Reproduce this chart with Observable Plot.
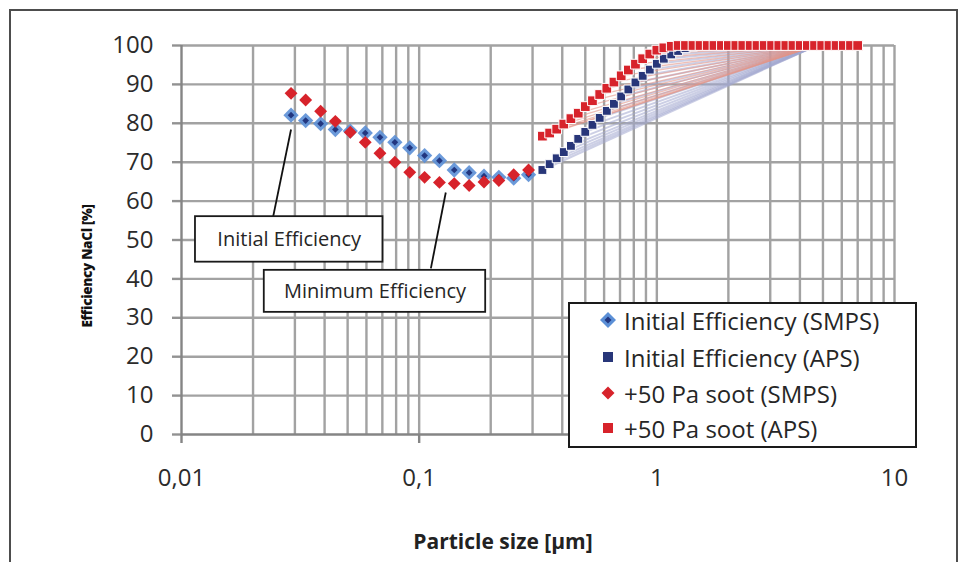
<!DOCTYPE html>
<html>
<head>
<meta charset="utf-8">
<script src="https://cdn.jsdelivr.net/npm/d3@7"></script>
<script src="https://cdn.jsdelivr.net/npm/@observablehq/plot@0.6"></script>
<style>
  body { margin: 0; background: #fff; font-family: "Open Sans", sans-serif; }
  #wrap { position: relative; width: 963px; height: 562px; overflow: hidden; background: #fff; }
  #frame { position: absolute; left: 9px; top: 9px; width: 945px; height: 620px; border: 2px solid #4d4d4d; }
  #chart { position: absolute; left: 0; top: 0; }
  #ylabel { position: absolute; left: 87px; top: 266px; transform: translate(-50%, -50%) rotate(-90deg);
            white-space: nowrap; font-size: 13.5px; font-weight: 800; color: #111; letter-spacing: -0.3px; }
  #xlabel { position: absolute; left: 503px; top: 541px; transform: translate(-50%, -50%);
            white-space: nowrap; font-size: 21px; font-weight: 700; color: #222; }
  #legend { position: absolute; left: 568px; top: 302px; width: 345px; height: 142px;
            border: 2px solid #1a1a1a; background: #fff; }
  .row { position: absolute; left: 0; height: 30px; display: flex; align-items: center; }
  .row span { font-size: 24px; color: #262626; white-space: nowrap; }
</style>
</head>
<body>
<div id="wrap">
  <div id="frame"></div>
  <div id="chart"></div>
  <div id="ylabel">Efficiency NaCl [%]</div>
  <div id="xlabel">Particle size [µm]</div>
  <div id="legend"></div>
</div>
<script>
// ---- SMPS series (particle size in µm, efficiency in %) ----
const smpsSize = [0.0289, 0.0333, 0.0385, 0.0444, 0.0513, 0.0593, 0.0684, 0.0790, 0.0913,
                  0.1054, 0.1217, 0.1405, 0.1623, 0.1874, 0.2164, 0.2499, 0.2886];
const smpsInitial = [82.1, 80.7, 79.9, 78.4, 78.0, 77.5, 76.4, 75.1, 73.7,
                     71.7, 70.4, 68.0, 67.3, 66.4, 66.1, 65.9, 66.8];
const smpsSoot = [87.7, 86.0, 83.1, 80.5, 77.7, 75.1, 72.3, 70.0, 67.4,
                  66.1, 64.8, 64.5, 64.0, 64.9, 65.3, 66.8, 68.0];

// ---- APS series ----
const apsSize = [0.330, 0.354, 0.379, 0.406, 0.435, 0.467, 0.500, 0.536, 0.575, 0.616,
                 0.660, 0.708, 0.759, 0.813, 0.872, 0.934, 1.00, 1.07, 1.15, 1.23,
                 1.32, 1.42, 1.52, 1.63, 1.74, 1.87, 2.00, 2.15, 2.30, 2.47,
                 2.64, 2.83, 3.04, 3.26, 3.49, 3.74, 4.01, 4.30, 4.61, 4.94,
                 5.30, 5.68, 6.09, 6.53, 7.00];
const apsInitial = [68.0, 69.5, 71.0, 72.6, 74.2, 76.0, 77.8, 79.6, 81.4, 83.2,
                    85.0, 86.9, 88.7, 90.5, 92.2, 93.8, 95.3, 96.6, 97.7, 98.6,
                    99.3, 99.7, 100, 100, 100, 100, 100, 100, 100, 100,
                    100, 100, 100, 100, 100, 100, 100, 100, 100, 100,
                    100, 100, 100, 100, 100];
const apsSoot = [76.7, 77.5, 78.5, 79.8, 81.2, 82.6, 84.3, 85.8, 87.4, 89.0,
                 90.6, 92.2, 93.7, 95.2, 96.6, 97.8, 98.8, 99.4, 99.8, 100,
                 100, 100, 100, 100, 100, 100, 100, 100, 100, 100,
                 100, 100, 100, 100, 100, 100, 100, 100, 100, 100,
                 100, 100, 100, 100, 100];
// point where the hatched APS "fan" lines converge
const fanApexSize = 4.7;
const fanApexEff = 100;

// ---- axes ----
const xTicks = [0.01, 0.1, 1, 10];
const xTickLabels = ["0,01", "0,1", "1", "10"];
const yTicks = [0, 10, 20, 30, 40, 50, 60, 70, 80, 90, 100];

// ---- legend ----
const seriesNames = ["Initial Efficiency (SMPS)", "Initial Efficiency (APS)",
                     "+50 Pa soot (SMPS)", "+50 Pa soot (APS)"];

// ---- callouts (data coordinates) ----
const calloutLabels = ["Initial Efficiency", "Minimum Efficiency"];
const calloutFrom = [[0.0289, 78.4], [0.1294, 62.2]];
const calloutTo = [[0.0243, 56.0], [0.112, 42.7]];
const calloutBoxX = [[0.01145, 0.0704], [0.0223, 0.1905]];
const calloutBoxY = [[44.3, 56.0], [31.4, 42.2]];
const calloutTextAt = [[0.0284, 50.1], [0.0652, 36.8]];

// ---- build tables ----
const smps = smpsSize.map((x, i) => ({x, init: smpsInitial[i], soot: smpsSoot[i]}));
const aps = apsSize.map((x, i) => ({x, init: apsInitial[i], soot: apsSoot[i]}));
const callouts = calloutLabels.map((label, i) => ({
  label,
  fx: calloutFrom[i][0], fy: calloutFrom[i][1],
  tx: calloutTo[i][0], ty: calloutTo[i][1],
  bx1: calloutBoxX[i][0], bx2: calloutBoxX[i][1],
  by1: calloutBoxY[i][0], by2: calloutBoxY[i][1],
  cx: calloutTextAt[i][0], cy: calloutTextAt[i][1]
}));

// minor grid positions of the log axis
const xGrid = [];
for (const decade of [0.01, 0.1, 1]) for (let m = 1; m <= 9; m++) xGrid.push(+(m * decade).toPrecision(3));
xGrid.push(10);

const cBlueLight = "#5b8fd6", cBlueDark = "#22367f", cNavy = "#283679", cRed = "#d7232b";

const chart = Plot.plot({
  width: 963,
  height: 562,
  marginTop: 45,
  marginBottom: 128,
  marginLeft: 181,
  marginRight: 69,
  style: {fontFamily: "Open Sans, sans-serif", background: "transparent", overflow: "visible"},
  x: {type: "log", domain: [0.01, 10]},
  y: {domain: [0, 100]},
  marks: [
    // grid
    Plot.ruleX(xGrid.filter(d => d > 0.01), {y1: 0, y2: 100, stroke: "#a2a2a2", strokeWidth: 2.4}),
    Plot.ruleY(yTicks.filter(d => d > 0), {x1: 0.01, x2: 10, stroke: "#a2a2a2", strokeWidth: 2.4}),
    // axes
    Plot.axisY({ticks: yTicks, tickSize: 9, tickPadding: 19, fontSize: 24, stroke: "#929292",
                strokeWidth: 2.4, fill: "#2b2b2b", label: null}),
    Plot.axisX({ticks: xTicks, tickSize: 9, tickPadding: 25, fontSize: 24, stroke: "#858585",
                strokeWidth: 2.4, fill: "#2b2b2b", label: null,
                tickFormat: d => xTickLabels[xTicks.indexOf(d)]}),
    Plot.ruleX([0.01], {y1: 0, y2: 100, stroke: "#858585", strokeWidth: 2.4}),
    Plot.ruleY([0], {x1: 0.01, x2: 10, stroke: "#858585", strokeWidth: 2.4}),
    // callouts
    Plot.link(callouts, {x1: "fx", y1: "fy", x2: "tx", y2: "ty", stroke: "#111", strokeWidth: 1.8}),
    Plot.rect(callouts, {x1: "bx1", x2: "bx2", y1: "by1", y2: "by2", fill: "#fff", stroke: "#1a1a1a", strokeWidth: 1.8}),
    Plot.text(callouts, {x: "cx", y: "cy", text: "label", fontSize: 20, fill: "#262626"}),
    // APS fan lines
    Plot.link(aps, {x1: "x", y1: "init", x2: () => fanApexSize, y2: () => fanApexEff,
                    stroke: "#a3a8cf", strokeWidth: 2, strokeOpacity: 0.55}),
    Plot.link(aps, {x1: "x", y1: "soot", x2: () => fanApexSize, y2: () => fanApexEff,
                    stroke: "#e39487", strokeWidth: 1.3, strokeOpacity: 0.6}),
    // Initial SMPS: light blue diamond with dark centre
    Plot.dot(smps, {x: "x", y: "init", symbol: "diamond2", r: 6.9, fill: cBlueLight, fillOpacity: 0.9}),
    Plot.dot(smps, {x: "x", y: "init", symbol: "diamond2", r: 3.0, fill: cBlueDark}),
    // Initial APS: navy squares
    Plot.dot(aps, {x: "x", y: "init", symbol: "square", r: 5.0, fill: cNavy, stroke: "#fff", strokeWidth: 1}),
    // soot SMPS: red diamonds
    Plot.dot(smps, {x: "x", y: "soot", symbol: "diamond2", r: 5.8, fill: cRed}),
    // soot APS: red squares
    Plot.dot(aps, {x: "x", y: "soot", symbol: "square", r: 5.5, fill: cRed, stroke: "#fff", strokeWidth: 1})
  ]
});
document.getElementById("chart").appendChild(chart);

// ---- legend ----
const legendMarkers = [
  `<svg width="20" height="20" viewBox="-10 -10 20 20"><path d="M0,-8L8,0L0,8L-8,0Z" fill="${cBlueLight}"/><path d="M0,-3.5L3.5,0L0,3.5L-3.5,0Z" fill="${cBlueDark}"/></svg>`,
  `<svg width="20" height="20" viewBox="-10 -10 20 20"><rect x="-5" y="-5" width="10" height="10" fill="${cNavy}"/></svg>`,
  `<svg width="20" height="20" viewBox="-10 -10 20 20"><path d="M0,-6.5L6.5,0L0,6.5L-6.5,0Z" fill="${cRed}"/></svg>`,
  `<svg width="20" height="20" viewBox="-10 -10 20 20"><rect x="-5" y="-5" width="10" height="10" fill="${cRed}"/></svg>`
];
const rowCentres = [16, 53, 89, 124];
const legend = document.getElementById("legend");
seriesNames.forEach((name, i) => {
  const row = document.createElement("div");
  row.className = "row";
  row.style.top = (rowCentres[i] - 15) + "px";
  row.style.left = "28px";
  row.innerHTML = legendMarkers[i] + `<span style="margin-left:6px">${name}</span>`;
  legend.appendChild(row);
});
</script>
</body>
</html>
